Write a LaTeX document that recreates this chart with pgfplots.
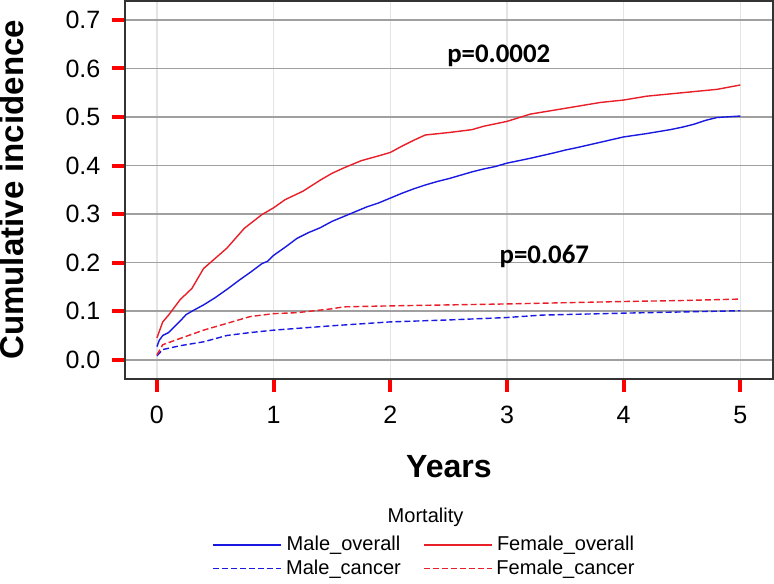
\documentclass[border=0pt]{standalone}
\usepackage{pgfplots}
\pgfplotsset{compat=1.18}
\usepackage{fontspec}
\setmainfont{Liberation Sans}
\newfontfamily\pfont{Carlito}
\definecolor{mblue}{RGB}{25,25,225}
\definecolor{fred}{RGB}{232,30,40}
\definecolor{gridmaj}{RGB}{160,160,160}
\definecolor{gridmin}{RGB}{228,228,228}

\begin{document}
\begin{tikzpicture}
\begin{axis}[
    scale only axis,
    width=323.5pt, height=188.5pt,
    xmin=-0.275, xmax=5.28, ymin=-0.039, ymax=0.739,
    clip=false,
    xtick={0,1,2,3,4,5},
    ytick={0,0.1,0.2,0.3,0.4,0.5,0.6,0.7},
    tick pos=left,
    tick align=outside,
    major tick length=6.5pt,
    major tick style={draw=red, line width=2pt},
    /pgf/number format/assume math mode=true,
    yticklabel style={inner sep=0pt, anchor=east, xshift=-5.5pt,
        /pgf/number format/.cd, fixed, fixed zerofill, precision=1},
    xticklabel style={inner sep=0pt, anchor=north, yshift=-7pt},
    ticklabel style={font=\fontsize{12.5}{14}\selectfont},
    xmajorgrids, ymajorgrids,
    x grid style={gridmin, line width=0.7pt},
    y grid style={gridmaj, line width=0.8pt},
    axis line style={black!80, line width=1pt},
    xlabel={Years},
    ylabel={Cumulative incidence},
    xlabel style={font=\bfseries\fontsize{16}{18}\selectfont, inner sep=0pt,
        at={(axis description cs:0.5,-0.2334)}, anchor=center},
    ylabel style={font=\bfseries\fontsize{16.5}{18}\selectfont, inner sep=0pt,
        at={(axis description cs:-0.1932,0.5)}, anchor=north},
    legend columns=2,
    legend style={draw=none, fill=none, at={(0.464,-0.40)}, anchor=north,
        inner sep=1pt,
        font=\fontsize{10}{12}\selectfont, row sep=-1pt,
        /tikz/every even column/.append style={column sep=9pt}},
    legend image code/.code={\draw[mark repeat=2,mark phase=2,#1] (0pt,0pt) -- (34pt,0pt);},
]
\addplot[color=mblue, line width=0.7pt] coordinates {
(0,0.027)(0.02,0.04)(0.05,0.05)(0.1,0.056)(0.15,0.068)(0.2,0.08)(0.25,0.093)(0.3,0.1)
(0.4,0.113)(0.5,0.128)(0.6,0.145)(0.7,0.163)(0.8,0.18)(0.9,0.198)(0.95,0.203)(1,0.215)
(1.1,0.232)(1.2,0.25)(1.3,0.262)(1.4,0.272)(1.5,0.285)(1.6,0.295)(1.7,0.305)(1.8,0.315)
(1.9,0.323)(2,0.333)(2.1,0.343)(2.2,0.352)(2.3,0.36)(2.4,0.367)(2.5,0.373)(2.6,0.38)
(2.7,0.387)(2.8,0.393)(2.9,0.398)(3,0.405)(3.2,0.415)(3.4,0.426)(3.5,0.432)(3.6,0.437)
(3.8,0.448)(4,0.459)(4.2,0.466)(4.4,0.474)(4.5,0.479)(4.6,0.485)(4.7,0.493)(4.8,0.499)(5,0.502)};
\addlegendentry{Male\_overall}
\addplot[color=fred, line width=0.7pt] coordinates {
(0,0.045)(0.05,0.078)(0.1,0.092)(0.2,0.124)(0.3,0.147)(0.4,0.188)(0.5,0.209)(0.6,0.23)
(0.75,0.271)(0.9,0.299)(1,0.313)(1.1,0.33)(1.25,0.347)(1.4,0.37)(1.5,0.384)(1.6,0.395)
(1.75,0.41)(1.9,0.42)(2,0.427)(2.1,0.44)(2.2,0.452)(2.3,0.463)(2.5,0.468)(2.7,0.474)
(2.8,0.481)(3,0.491)(3.2,0.506)(3.5,0.518)(3.8,0.53)(4,0.535)(4.2,0.543)(4.5,0.55)
(4.8,0.557)(5,0.566)};
\addlegendentry{Female\_overall}
\addplot[color=mblue, line width=0.7pt, dash pattern=on 3pt off 1.5pt] coordinates {
(0,0.008)(0.05,0.021)(0.2,0.029)(0.4,0.037)(0.6,0.05)(0.8,0.056)(1,0.061)(1.5,0.07)
(2,0.078)(2.5,0.082)(3,0.087)(3.3,0.092)(4,0.096)(5,0.101)};
\addlegendentry{Male\_cancer}
\addplot[color=fred, line width=0.7pt, dash pattern=on 3pt off 1.5pt] coordinates {
(0,0.01)(0.05,0.031)(0.2,0.044)(0.4,0.061)(0.6,0.075)(0.8,0.089)(1,0.095)(1.2,0.097)
(1.5,0.105)(1.6,0.109)(2,0.111)(2.5,0.113)(3,0.115)(4,0.12)(4.5,0.122)(5,0.125)};
\addlegendentry{Female\_cancer}
\node[font=\pfont\bfseries\fontsize{13.4}{15}\selectfont] at (axis cs:2.93,0.626) {p=0.0002};
\node[font=\pfont\bfseries\fontsize{13.4}{15}\selectfont] at (axis cs:3.32,0.213) {p=0.067};
\node[font=\fontsize{10}{12}\selectfont] at (rel axis cs:0.464,-0.366) {Mortality};
\end{axis}
\end{tikzpicture}
\end{document}
